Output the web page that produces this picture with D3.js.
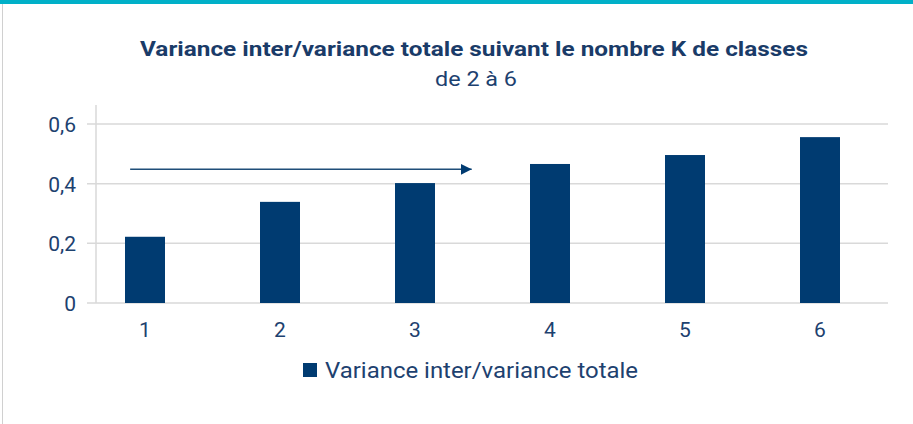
<!DOCTYPE html>
<html>
<head>
<meta charset="utf-8">
<script src="https://cdn.jsdelivr.net/npm/d3@7"></script>
<style>
  html, body { margin: 0; padding: 0; background: #fff; }
  svg { display: block; }
  text { font-family: Roboto, "DejaVu Sans", sans-serif; }
</style>
</head>
<body>
<svg id="chart" width="913" height="424"></svg>
<script>
// ---- data ----
const categories = ["1", "2", "3", "4", "5", "6"];
const values = [0.222, 0.339, 0.402, 0.466, 0.496, 0.556];
const yTicks = [0, 0.2, 0.4, 0.6];
const seriesName = "Variance inter/variance totale";
const titleText = "Variance inter/variance totale suivant le nombre K de classes";
const subtitleText = "de 2 à 6";
// arrow annotation: from / to in 0-based category-index units, at a value level
const arrowFrom = -0.11, arrowTo = 2.42, arrowValue = 0.448;

// ---- setup ----
const W = 913, H = 424;
const svg = d3.select("#chart");
const barColor = "#003b71";
const textColor = "#1d416f";
const gridColor = "#d9d9d9";

// frame: teal top band and left border
svg.append("rect").attr("x", 0).attr("y", 0).attr("width", W).attr("height", 4).attr("fill", "#00b0c8");
svg.append("line").attr("x1", 2.5).attr("x2", 2.5).attr("y1", 4).attr("y2", H)
  .attr("stroke", "#d0d0d0").attr("stroke-width", 1);

// scales
const x = d3.scaleBand().domain(categories).range([77.5, 887.5])
  .paddingInner(95 / 135).paddingOuter(95 / 270);
const y = d3.scaleLinear().domain([0, 0.6]).range([303, 124]);
const idx = d3.scaleLinear().domain([0, 1]).range([x(categories[0]) + x.bandwidth() / 2, x(categories[1]) + x.bandwidth() / 2]);

// title
svg.append("text").attr("x", 474).attr("y", 56).attr("text-anchor", "middle")
  .attr("font-size", 21).attr("font-weight", "bold").attr("fill", "#1a3b68")
  .attr("textLength", 668).attr("lengthAdjust", "spacingAndGlyphs")
  .text(titleText);
svg.append("text").attr("x", 476).attr("y", 86).attr("text-anchor", "middle")
  .attr("font-size", 21).attr("fill", textColor)
  .attr("textLength", 82).attr("lengthAdjust", "spacingAndGlyphs")
  .text(subtitleText);

// gridlines
svg.append("g").selectAll("line").data(yTicks).join("line")
  .attr("x1", 87).attr("x2", 888)
  .attr("y1", d => y(d)).attr("y2", d => y(d))
  .attr("stroke", gridColor).attr("stroke-width", 1.5);

// y axis vertical line
svg.append("line").attr("x1", 96).attr("x2", 96).attr("y1", 105).attr("y2", y(0))
  .attr("stroke", gridColor).attr("stroke-width", 1.5);

// y axis labels
const fmt = d => d === 0 ? "0" : d3.format(".1f")(d).replace(".", ",");
const yAxis = d3.axisLeft(y).tickValues(yTicks).tickFormat(fmt).tickSize(0).tickPadding(0);
const gy = svg.append("g").attr("transform", "translate(76,0)").call(yAxis);
gy.select(".domain").remove();
gy.selectAll("text").attr("font-size", 21).attr("fill", textColor)
  .attr("font-family", "Roboto, sans-serif").attr("dy", "0.35em");

// x axis labels
const xAxis = d3.axisBottom(x).tickSize(0).tickPadding(0);
const gx = svg.append("g").attr("transform", "translate(0,337)").call(xAxis);
gx.select(".domain").remove();
gx.selectAll("text").attr("font-size", 21).attr("fill", textColor)
  .attr("font-family", "Roboto, sans-serif").attr("dy", 0).attr("y", 0);

// bars
svg.append("g").selectAll("rect").data(values).join("rect")
  .attr("x", (d, i) => x(categories[i]))
  .attr("width", x.bandwidth())
  .attr("y", d => y(d))
  .attr("height", d => y(0) - y(d))
  .attr("fill", barColor);

// arrow annotation
const defs = svg.append("defs");
defs.append("marker").attr("id", "arr").attr("viewBox", "0 0 10 10")
  .attr("refX", 10).attr("refY", 5).attr("markerWidth", 11).attr("markerHeight", 12)
  .attr("markerUnits", "userSpaceOnUse").attr("orient", "auto")
  .append("path").attr("d", "M0,0 L10,5 L0,10 Z").attr("fill", barColor);
svg.append("line")
  .attr("x1", idx(arrowFrom)).attr("x2", idx(arrowTo))
  .attr("y1", y(arrowValue)).attr("y2", y(arrowValue))
  .attr("stroke", "#1f4e79").attr("stroke-width", 1.5)
  .attr("marker-end", "url(#arr)");

// legend
const lg = svg.append("g");
lg.append("rect").attr("x", 303).attr("y", 363).attr("width", 14).attr("height", 14).attr("fill", barColor);
lg.append("text").attr("x", 325).attr("y", 378).attr("font-size", 22).attr("fill", textColor)
  .attr("textLength", 313).attr("lengthAdjust", "spacingAndGlyphs")
  .text(seriesName);
</script>
</body>
</html>
